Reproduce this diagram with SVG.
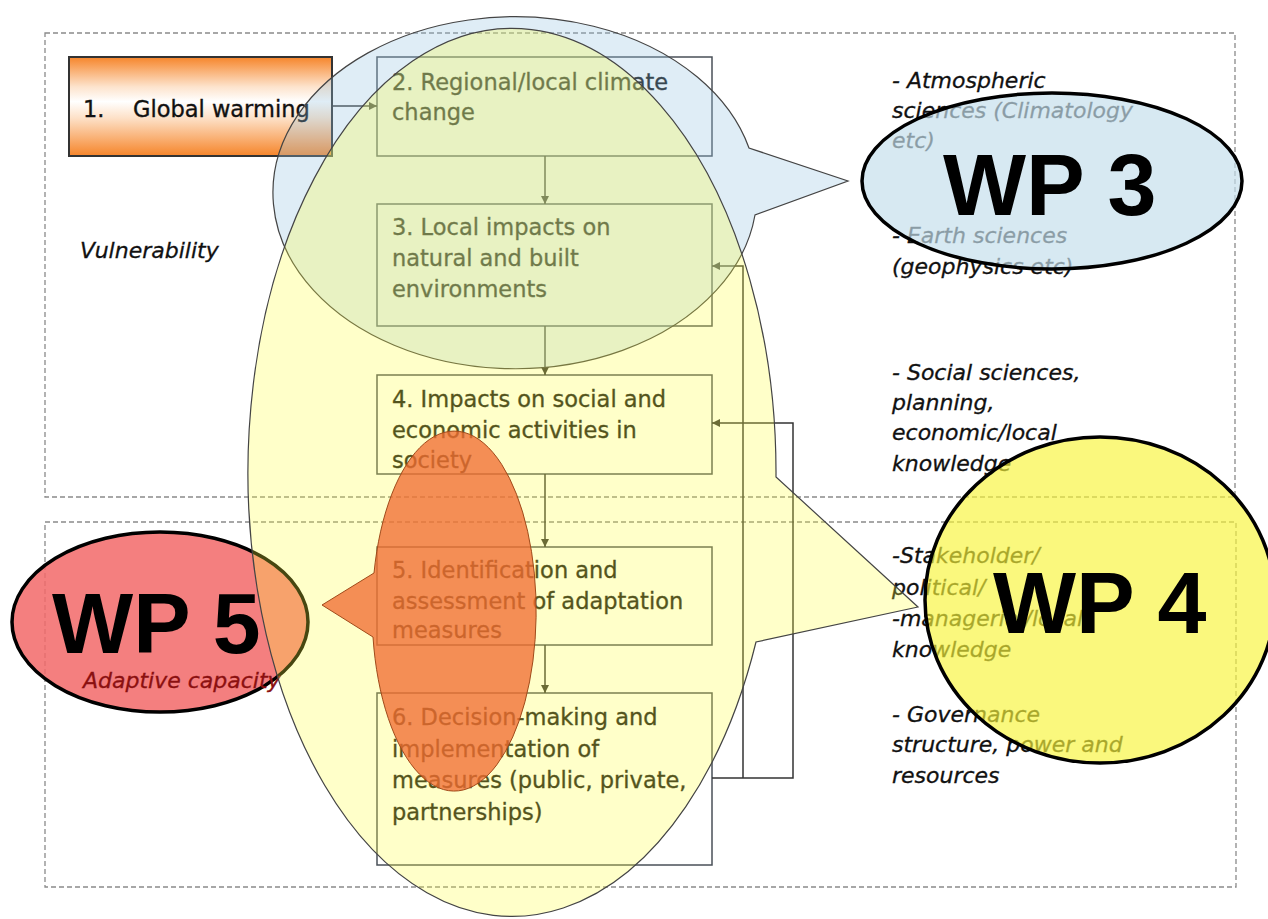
<svg xmlns="http://www.w3.org/2000/svg" width="1268" height="919" viewBox="0 0 1268 919">
<defs>
<style>
.dash{fill:none;stroke:#8a8a8a;stroke-width:1.3;stroke-dasharray:5 3}
.box{fill:#ffffff;stroke:#4a5058;stroke-width:1.5}
.bt{font-family:"DejaVu Sans","Liberation Sans",sans-serif;font-size:22.5px;fill:#111;stroke:#111;stroke-width:0.35}
.it{font-family:"DejaVu Sans","Liberation Sans",sans-serif;font-style:italic;font-size:22px;fill:#111;stroke:#111;stroke-width:0.3}
.wp{font-family:"Liberation Sans",Arial,sans-serif;font-weight:bold;fill:#000}
.con{fill:none;stroke:#333;stroke-width:1.5}
.wpe{stroke:#000;stroke-width:3.5}
</style>
<linearGradient id="gOrange" x1="0" y1="0" x2="0" y2="1">
<stop offset="0" stop-color="#f6852a"/>
<stop offset="0.3" stop-color="#fde3cc"/>
<stop offset="0.45" stop-color="#ffffff"/>
<stop offset="0.62" stop-color="#fde0c6"/>
<stop offset="1" stop-color="#f6852a"/>
</linearGradient>
<marker id="arr" viewBox="0 0 10 10" refX="10" refY="5" markerWidth="8" markerHeight="8" markerUnits="userSpaceOnUse" orient="auto">
<path d="M0,0 L10,5 L0,10 Z" fill="#333"/>
</marker>
</defs>

<g id="frames">
<rect class="dash" x="45" y="33" width="1190" height="464"/>
<rect class="dash" x="45" y="522" width="1191" height="365"/>
</g>

<g id="node1">
<rect x="69" y="57" width="263" height="99" fill="url(#gOrange)" stroke="#333" stroke-width="2"/>
<text class="bt" x="83" y="117">1.</text>
<text class="bt" x="133" y="117">Global warming</text>
</g>
<g id="node2">
<rect class="box" x="377" y="57" width="335" height="99"/>
<text class="bt" x="392" y="90">2. Regional/local climate</text>
<text class="bt" x="392" y="120">change</text>
</g>
<g id="node3">
<rect class="box" x="377" y="204" width="335" height="122"/>
<text class="bt" x="392" y="235">3. Local impacts on</text>
<text class="bt" x="392" y="266">natural and built</text>
<text class="bt" x="392" y="297">environments</text>
</g>
<g id="node4">
<rect class="box" x="377" y="375" width="335" height="99"/>
<text class="bt" x="392" y="407">4. Impacts on social and</text>
<text class="bt" x="392" y="438">economic activities in</text>
<text class="bt" x="392" y="468">society</text>
</g>
<g id="node5">
<rect class="box" x="377" y="547" width="335" height="98"/>
<text class="bt" x="392" y="578">5. Identification and</text>
<text class="bt" x="392" y="609">assessment of adaptation</text>
<text class="bt" x="392" y="638">measures</text>
</g>
<g id="node6">
<rect class="box" x="377" y="693" width="335" height="172"/>
<text class="bt" x="392" y="725">6. Decision-making and</text>
<text class="bt" x="392" y="757">implementation of</text>
<text class="bt" x="392" y="788">measures (public, private,</text>
<text class="bt" x="392" y="820">partnerships)</text>
</g>

<g id="connectors">
<line class="con" x1="332" y1="106" x2="377" y2="106" marker-end="url(#arr)"/>
<line class="con" x1="545" y1="156" x2="545" y2="204" marker-end="url(#arr)"/>
<line class="con" x1="545" y1="326" x2="545" y2="375" marker-end="url(#arr)"/>
<line class="con" x1="545" y1="474" x2="545" y2="547" marker-end="url(#arr)"/>
<line class="con" x1="545" y1="645" x2="545" y2="693" marker-end="url(#arr)"/>
<path class="con" d="M712,778 H793 V423 H712" marker-end="url(#arr)"/>
<path class="con" d="M743,778 V266 H712" marker-end="url(#arr)"/>
</g>

<g id="labels">
<text class="it" x="80" y="258">Vulnerability</text>
<text class="it" x="892" y="88">- Atmospheric</text>
<text class="it" x="892" y="118">sciences (Climatology</text>
<text class="it" x="892" y="148">etc)</text>
<text class="it" x="892" y="243">- Earth sciences</text>
<text class="it" x="892" y="274">(geophysics etc)</text>
<text class="it" x="892" y="380">- Social sciences,</text>
<text class="it" x="892" y="410">planning,</text>
<text class="it" x="892" y="440">economic/local</text>
<text class="it" x="892" y="471">knowledge</text>
<text class="it" x="892" y="563">-Stakeholder/</text>
<text class="it" x="892" y="595">political/</text>
<text class="it" x="892" y="626">-managerial/local</text>
<text class="it" x="892" y="657">knowledge</text>
<text class="it" x="892" y="722">- Governance</text>
<text class="it" x="892" y="752">structure, power and</text>
<text class="it" x="892" y="783">resources</text>
</g>

<g id="wp5">
<ellipse class="wpe" cx="160" cy="622" rx="148" ry="90" fill="#f26868" fill-opacity="0.85"/>
<text class="wp" x="52" y="653" font-size="86">WP 5</text>
<text class="it" x="83" y="688" style="fill:#8b1010;stroke:#8b1010">Adaptive capacity</text>
</g>

<g id="callouts">
<path d="M749,148 A242,176 0 1,0 755,215 L848,181 Z" fill="#96c3e1" fill-opacity="0.3" stroke="#444" stroke-width="1.2"/>
<path d="M776,477 A264,444 0 1,0 756,642 L918,607 Z" fill="#ffff3c" fill-opacity="0.28" stroke="#444" stroke-width="1.2"/>
<path d="M374,573 L322,605 L373,637 A82,180 0 1,0 374,573 Z" fill="#f06a30" fill-opacity="0.76" stroke="#a04a1a" stroke-width="1"/>
</g>

<g id="wp3">
<ellipse class="wpe" cx="1052" cy="181" rx="190" ry="88" fill="#c4deec" fill-opacity="0.68"/>
<text class="wp" x="943" y="215" font-size="88">WP 3</text>
</g>

<g id="wp4">
<ellipse class="wpe" cx="1100" cy="600" rx="175" ry="163" fill="#f8f53a" fill-opacity="0.66"/>
<text class="wp" x="993" y="633" font-size="88">WP 4</text>
</g>
</svg>
